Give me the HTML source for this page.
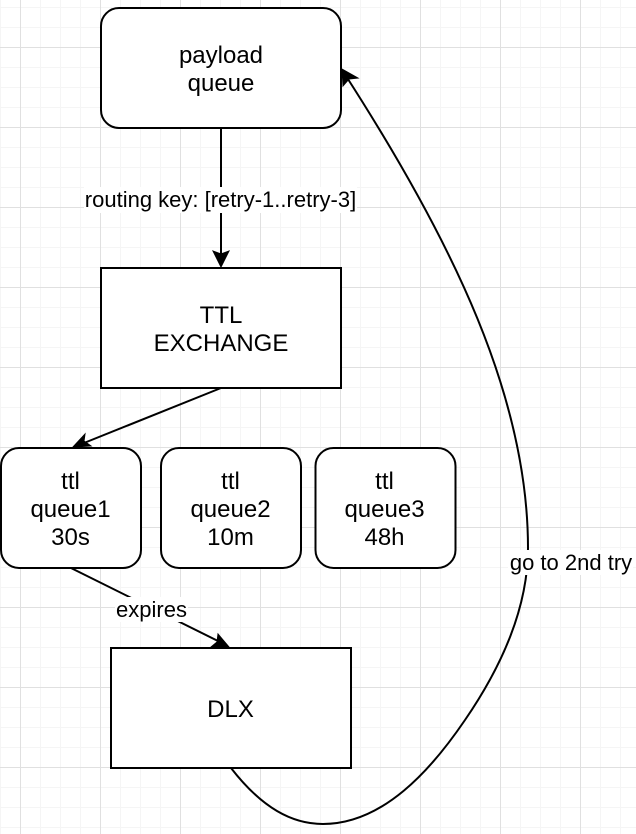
<!DOCTYPE html>
<html><head><meta charset="utf-8"><style>
html,body{margin:0;padding:0;background:#fff}
svg{display:block}
text{font-family:"Liberation Sans",Arial,sans-serif;font-size:24px;fill:#000;text-anchor:middle}
text.l{font-size:22px}
</style></head><body>
<svg width="636" height="834" viewBox="0 0 636 834" xmlns="http://www.w3.org/2000/svg">
<defs>
<pattern id="minor" x="0" y="7" width="20" height="20" patternUnits="userSpaceOnUse">
<rect x="0" y="0" width="20" height="1" fill="#f5f5f5"/><rect x="0" y="0" width="1" height="20" fill="#f5f5f5"/>
</pattern>
<pattern id="major" x="20" y="47" width="80" height="80" patternUnits="userSpaceOnUse">
<rect x="0" y="0" width="80" height="1" fill="#e0e0e0"/><rect x="0" y="0" width="1" height="80" fill="#e0e0e0"/>
</pattern>
</defs>
<rect width="636" height="834" fill="url(#minor)"/>
<rect width="636" height="834" fill="url(#major)"/>

<g fill="none" stroke="#000" stroke-width="2">
<path d="M221 128V258"/>
<path d="M221 388L84 443"/>
<path d="M71 568L220 642"/>
<path d="M231 768C262 808 292 824 323 824C383 824 431 770 465 720C500 669 528 610 528 548C528 398 454 244 346 76"/>
</g>
<g fill="#000" stroke="#000" stroke-width="1">
<path d="M221 267L213 251L221 254L229 251Z"/>
<path d="M73 447L85 434L84 441L91 446Z"/>
<path d="M229 647L211 647L217 642L218 634Z"/>
<path d="M342 69L358 78L349 79L343 86Z"/>
</g>

<g fill="#fff" stroke="#000" stroke-width="2">
<rect x="101" y="8" width="240" height="120" rx="18"/>
<rect x="101" y="268" width="240" height="120"/>
<rect x="1" y="448" width="140" height="120" rx="18"/>
<rect x="161" y="448" width="140" height="120" rx="18"/>
<rect x="315.500" y="448" width="140" height="120" rx="18"/>
<rect x="111" y="648" width="240" height="120"/>
</g>

<g fill="#fff">
<rect x="84" y="187" width="273" height="26"/>
<rect x="115" y="597" width="73" height="25"/>
<rect x="508" y="550" width="125" height="25"/>
</g>

<text x="221" y="63">payload</text>
<text x="221" y="91">queue</text>
<text class="l" x="220.500" y="207">routing key: [retry-1..retry-3]</text>
<text x="221" y="323">TTL</text>
<text x="221" y="351">EXCHANGE</text>
<text x="70.500" y="489">ttl</text>
<text x="70.500" y="517">queue1</text>
<text x="70.500" y="545">30s</text>
<text x="230.500" y="489">ttl</text>
<text x="230.500" y="517">queue2</text>
<text x="230.500" y="545">10m</text>
<text x="384.500" y="489">ttl</text>
<text x="384.500" y="517">queue3</text>
<text x="384.500" y="545">48h</text>
<text class="l" x="151.500" y="617">expires</text>
<text x="230.500" y="717">DLX</text>
<text class="l" x="571" y="570">go to 2nd try</text>
</svg>
</body></html>
